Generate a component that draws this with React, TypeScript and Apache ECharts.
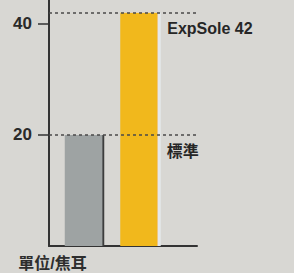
import React, { useEffect, useRef } from "react";
import * as echarts from "echarts";

const categories = ["標準", "ExpSole 42"];
const values = [20, 42];
const tickValues = [20, 40];
const referenceLines = [20, 42];
const unitLabel = "單位/焦耳";

const barColors = ["#9ea3a3", "#f1b81c"];
const font = "'Liberation Sans', Arial, 'Noto Sans CJK TC', sans-serif";

export default function App() {
  const ref = useRef<HTMLDivElement>(null);
  useEffect(() => {
    document.body.style.margin = "0";
    const chart = echarts.init(ref.current!, null, { renderer: "svg" });
    const yMax = 44.3;
    chart.setOption({
      animation: false,
      backgroundColor: "#d8d7d3",
      grid: [
        { left: 49, right: 97, top: 0, bottom: 27 },
        { left: 55.75, right: 127.25, top: 0, bottom: 27 },
      ],
      xAxis: [
        {
          gridIndex: 0,
          type: "value",
          min: 0,
          max: 1,
          axisLine: { show: true, onZero: false, lineStyle: { color: "#333", width: 2 } },
          axisTick: { show: false },
          axisLabel: { show: false },
          splitLine: { show: false },
        },
        {
          gridIndex: 1,
          type: "category",
          data: categories,
          show: false,
        },
      ],
      yAxis: [
        {
          gridIndex: 0,
          type: "value",
          min: 0,
          max: yMax,
          interval: 20,
          axisLine: { show: true, lineStyle: { color: "#333", width: 2 } },
          axisTick: {
            show: true,
            length: 11,
            customValues: tickValues,
            lineStyle: { color: "#333", width: 1.5 },
          },
          axisLabel: {
            customValues: tickValues,
            margin: 17,
            color: "#2a2a2a",
            fontSize: 17,
            fontWeight: "bold",
            fontFamily: font,
          },
          splitLine: { show: false },
          name: unitLabel,
          nameLocation: "start",
          nameGap: 9,
          nameTextStyle: {
            color: "#2e2e2e",
            fontSize: 16,
            fontWeight: "bold",
            fontFamily: font,
            padding: [0, 0, 0, 7],
            verticalAlign: "top",
          },
        },
        {
          gridIndex: 1,
          type: "value",
          min: 0,
          max: yMax,
          show: false,
        },
      ],
      series: [
        {
          type: "line",
          xAxisIndex: 0,
          yAxisIndex: 0,
          data: [],
          silent: true,
          markLine: {
            symbol: "none",
            silent: true,
            label: { show: false },
            lineStyle: { color: "#4a4a4a", width: 1.5, type: [3, 3] },
            data: referenceLines.map((v) => ({ yAxis: v })),
          },
        },
        {
          type: "bar",
          xAxisIndex: 1,
          yAxisIndex: 1,
          barWidth: 37.5,
          data: values.map((v, i) => ({
            value: v,
            itemStyle:
              i === 0
                ? { color: barColors[0], shadowColor: "#3c3c3c", shadowOffsetX: 2, shadowBlur: 0 }
                : { color: barColors[1], shadowColor: "#e4e8ea", shadowOffsetX: 3, shadowBlur: 0 },
            label: {
              show: true,
              position: i === 0 ? [102, 17] : [47, 16],
              align: "left",
              verticalAlign: "middle",
              formatter: "{b}",
              color: "#262626",
              fontSize: 16,
              fontWeight: "bold",
              fontFamily: font,
            },
          })),
        },
      ],
    });
    return () => chart.dispose();
  }, []);
  return <div ref={ref} style={{ width: 294, height: 273 }} />;
}
